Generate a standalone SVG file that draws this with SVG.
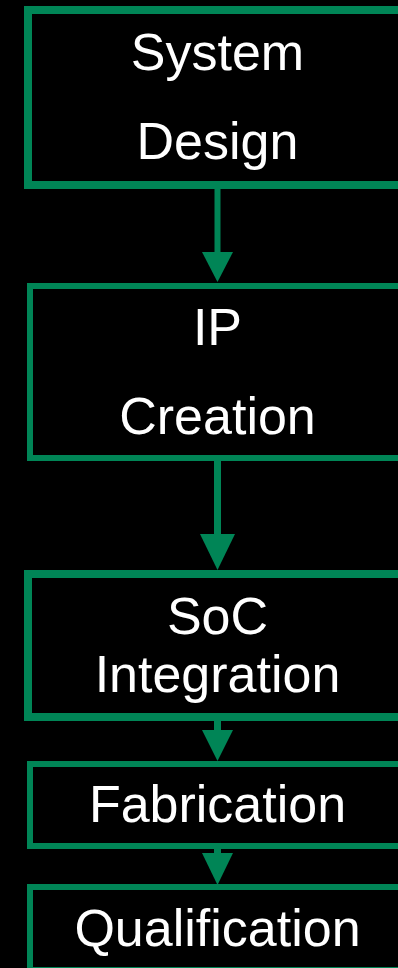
<svg xmlns="http://www.w3.org/2000/svg" width="398" height="968" viewBox="0 0 398 968">
  <defs>
    <style>
      .box { fill: #000000; stroke: #008556; }
      .label { fill: #ffffff; font-family: "Liberation Sans", Arial, sans-serif; font-size: 52px; text-anchor: middle; }
      .shaft { stroke: #008556; fill: none; }
      .head { fill: #008556; }
    </style>
  </defs>
  <rect x="0" y="0" width="398" height="968" fill="#000000"/>

  <g id="connectors">
    <line class="shaft" x1="217.5" y1="189" x2="217.5" y2="254" stroke-width="6"/>
    <polygon class="head" points="202,252 233,252 217.5,282"/>
    <line class="shaft" x1="217.5" y1="461" x2="217.5" y2="536" stroke-width="7"/>
    <polygon class="head" points="200,534 235,534 217.5,570"/>
    <line class="shaft" x1="217.5" y1="721" x2="217.5" y2="732" stroke-width="7"/>
    <polygon class="head" points="202,730 233,730 217.5,761"/>
    <line class="shaft" x1="217.5" y1="849" x2="217.5" y2="855" stroke-width="7"/>
    <polygon class="head" points="202,853 233,853 217.5,885"/>
  </g>

  <g id="system-design">
    <rect class="box" x="28" y="10" width="400" height="175" stroke-width="8"/>
    <text class="label" x="217.5" y="70">System</text>
    <text class="label" x="217.5" y="159">Design</text>
  </g>

  <g id="ip-creation">
    <rect class="box" x="30" y="286" width="400" height="172" stroke-width="6"/>
    <text class="label" x="217.5" y="345">IP</text>
    <text class="label" x="217.5" y="434">Creation</text>
  </g>

  <g id="soc-integration">
    <rect class="box" x="28" y="574" width="400" height="143" stroke-width="8"/>
    <text class="label" x="217.5" y="634">SoC</text>
    <text class="label" x="217.5" y="692">Integration</text>
  </g>

  <g id="fabrication">
    <rect class="box" x="30" y="764" width="400" height="82" stroke-width="6"/>
    <text class="label" x="217.5" y="822">Fabrication</text>
  </g>

  <g id="qualification">
    <rect class="box" x="30" y="887" width="400" height="83" stroke-width="6"/>
    <text class="label" x="217.5" y="946">Qualification</text>
  </g>
</svg>
